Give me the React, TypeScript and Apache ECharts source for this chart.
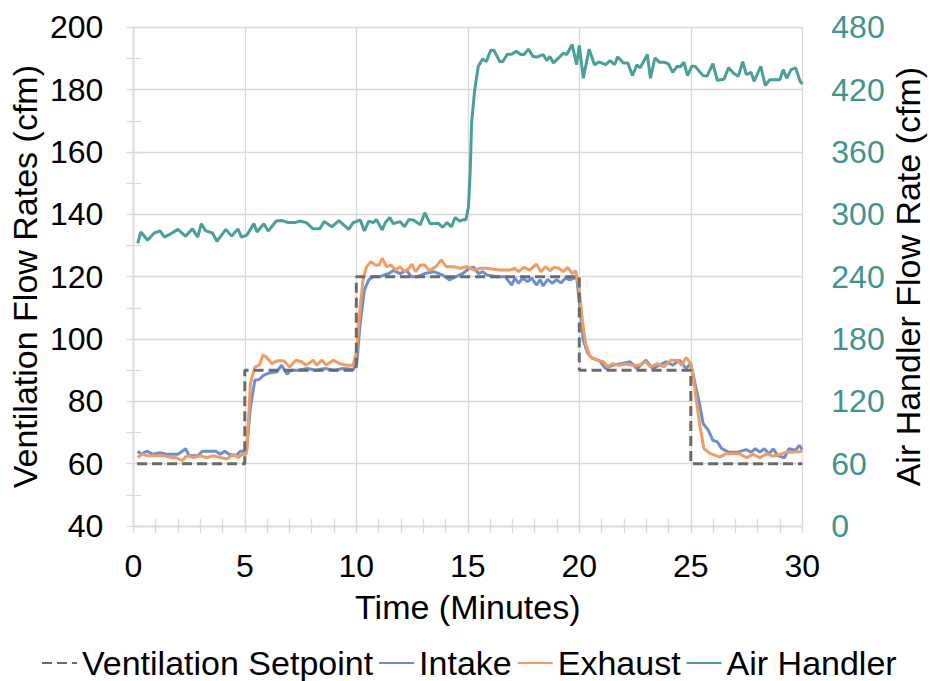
import React, { useEffect, useRef } from "react";
import * as echarts from "echarts";

const xTicks = [0, 5, 10, 15, 20, 25, 30];

const setpointTime = [0.17, 5, 5, 10, 10, 20, 20, 25, 25, 30];
const setpointFlow = [60, 60, 90, 90, 120, 120, 90, 90, 60, 60];

const intakeTime = [
  0.2, 0.35, 0.6, 0.9, 1.2, 1.5, 1.8, 2.0, 2.35, 2.5, 2.9, 3.1, 3.4, 3.7, 3.9, 4.1, 4.3, 4.6, 4.8, 5.0,
  5.09, 5.25, 5.45, 5.65, 5.85, 6.15, 6.45, 6.65, 6.9, 7.05, 7.4, 7.8, 8.2, 8.6, 9.0, 9.4, 9.86, 10.02, 10.16, 10.36,
  10.56, 10.76, 11.05, 11.46, 11.66, 11.96, 12.26, 12.46, 12.76, 13.07, 13.47, 13.87, 14.17, 14.47, 14.77, 15.07, 15.27, 15.47, 15.67, 15.87,
  16.27, 16.67, 16.97, 17.11, 17.27, 17.47, 17.67, 17.87, 18.08, 18.24, 18.38, 18.58, 18.78, 18.98, 19.18, 19.38, 19.58, 19.78, 19.88, 20.04,
  20.18, 20.38, 20.58, 20.88, 21.18, 21.48, 21.88, 22.28, 22.59, 22.99, 23.29, 23.59, 23.89, 24.19, 24.49, 24.79, 25.0, 25.19, 25.39, 25.55,
  25.79, 25.99, 26.19, 26.39, 26.69, 27.09, 27.49, 27.7, 27.9, 28.1, 28.3, 28.5, 28.7, 28.9, 29.2, 29.4, 29.7, 29.86, 30.0,
];
const intakeFlow = [
  64, 63, 64, 63, 63.5, 63, 63, 63, 64.8, 62.5, 62.5, 64, 64, 64, 63, 64, 63, 62.5, 64, 64,
  65, 78, 86.8, 87, 88.4, 89.2, 89.5, 91.6, 88.7, 90, 90, 90.5, 90, 90.5, 90, 90.5, 90.2, 92, 104, 115.7,
  119, 120, 120, 121, 122, 121, 122, 120, 120, 121, 121.6, 120.5, 119, 120, 121, 122.7, 123, 121, 121.6, 120.5,
  120, 120, 117.3, 119.5, 117.9, 119.5, 118.4, 119.5, 117.3, 119, 117, 119.1, 117.9, 119, 118, 119.5, 119, 119.5, 120, 109.3,
  99.6, 95.4, 93.8, 93.2, 90.5, 91.6, 92.1, 92.7, 90.5, 93.2, 90.5, 91.6, 92.7, 91.6, 93.2, 90.5, 92.1, 85.7, 79.3, 72.9,
  70.7, 67.5, 67, 64.8, 63.7, 63.7, 64.5, 63.7, 64.8, 63.7, 64.8, 63.2, 64.8, 62.6, 61.9, 64.8, 64.3, 65.9, 64.5,
];

const exhaustTime = [
  0.2, 0.4, 0.7, 1.0, 1.4, 1.7, 1.9, 2.2, 2.4, 2.7, 3.0, 3.3, 3.6, 3.9, 4.2, 4.5, 4.7, 4.9, 5.05, 5.09,
  5.25, 5.45, 5.65, 5.81, 5.95, 6.21, 6.45, 6.75, 7.01, 7.29, 7.55, 7.76, 8.06, 8.22, 8.46, 8.66, 8.96, 9.26, 9.56, 9.86,
  10.02, 10.16, 10.3, 10.46, 10.66, 10.86, 11.02, 11.16, 11.36, 11.56, 11.76, 11.96, 12.16, 12.36, 12.5, 12.66, 12.87, 13.07, 13.27, 13.57,
  13.81, 14.03, 14.37, 14.67, 14.97, 15.27, 15.57, 15.87, 16.17, 16.47, 16.87, 17.11, 17.27, 17.52, 17.78, 18.08, 18.28, 18.48, 18.68, 18.88,
  19.08, 19.28, 19.48, 19.68, 19.84, 19.98, 20.12, 20.28, 20.48, 20.78, 21.08, 21.28, 21.48, 21.78, 22.08, 22.38, 22.68, 22.99, 23.19, 23.49,
  23.79, 24.09, 24.39, 24.59, 24.79, 25.0, 25.19, 25.39, 25.59, 25.89, 26.29, 26.59, 26.89, 27.19, 27.49, 27.79, 28.1, 28.4, 28.7, 29.0,
  29.3, 29.6, 30.0,
];
const exhaustFlow = [
  62, 63, 62.5, 62.5, 62.5, 62, 62, 61, 62.5, 62, 62.5, 62, 62.5, 62, 61.5, 63, 62, 63, 63, 64.3,
  85.7, 91, 91.6, 94.8, 94.3, 92.1, 93, 93, 91, 93.2, 92.7, 91.6, 93.2, 91.6, 93.2, 91.6, 93.2, 92.1, 91.6, 91.6,
  96.4, 109.3, 119, 123.2, 124.8, 123.7, 123.7, 125.9, 123.2, 123.7, 122.1, 123.2, 121.6, 122.7, 124, 121.6, 123.7, 123.7, 122, 123.2,
  125.4, 123.2, 123.2, 122.7, 123.2, 122.1, 122.7, 122.7, 122.4, 122.1, 122.1, 122.7, 121.6, 123, 122.1, 124, 121.6, 123.2, 121.9, 123,
  122.7, 121.6, 123, 121, 121.9, 116.8, 107.1, 98.6, 94.3, 93.2, 92.7, 91, 92.1, 91.6, 92, 91.6, 91.6, 92.7, 91, 92.1,
  91, 93.2, 93.2, 91.6, 94.1, 92.1, 83.6, 72.9, 64.8, 63.2, 62.1, 63.2, 63.2, 63.2, 61.9, 63, 61.9, 63.2, 62.4, 63,
  63.7, 63.7, 64,
];

const airTime = [
  0.2, 0.34, 0.64, 0.94, 1.2, 1.4, 1.74, 2.0, 2.34, 2.65, 2.89, 3.05, 3.25, 3.55, 3.75, 4.15, 4.41, 4.69, 4.85, 5.09,
  5.41, 5.55, 5.85, 6.05, 6.41, 6.65, 6.95, 7.25, 7.45, 7.76, 8.06, 8.36, 8.56, 8.9, 9.22, 9.66, 9.86, 10.18, 10.36, 10.56,
  10.76, 10.9, 11.16, 11.3, 11.5, 11.66, 11.96, 12.16, 12.36, 12.56, 12.87, 13.07, 13.31, 13.67, 13.87, 14.07, 14.27, 14.43, 14.63, 14.83,
  14.91, 15.03, 15.11, 15.17, 15.31, 15.47, 15.67, 15.83, 16.03, 16.17, 16.43, 16.57, 16.77, 16.97, 17.17, 17.37, 17.52, 17.72, 17.92, 18.12,
  18.38, 18.54, 18.68, 18.84, 19.12, 19.28, 19.44, 19.68, 19.88, 20.0, 20.18, 20.44, 20.68, 20.88, 21.18, 21.38, 21.58, 21.72, 21.98, 22.18,
  22.38, 22.59, 22.73, 23.05, 23.19, 23.39, 23.59, 23.79, 23.99, 24.19, 24.39, 24.53, 24.69, 24.85, 25.05, 25.19, 25.55, 25.73, 25.99, 26.19,
  26.49, 26.69, 26.93, 27.13, 27.33, 27.49, 27.7, 27.84, 28.14, 28.34, 28.54, 29.0, 29.14, 29.3, 29.5, 29.7, 29.9, 30.0,
];
const airFlow = [
  272, 283, 275, 282, 284, 278, 282, 285.5, 279, 286, 278, 291, 284, 282, 274, 285.5, 279, 286, 278, 280,
  291, 283, 291, 284, 293.5, 294, 292, 292, 293.5, 292, 286, 286, 293, 288, 294, 285.5, 292, 294.5, 284, 293.5,
  292, 295, 285, 292, 297, 291, 293, 288, 295, 294.5, 290, 301.5, 291, 291.5, 287.5, 292, 288, 297, 293.5, 295,
  294.5, 307, 343, 388, 420, 442.5, 449.6, 447, 458, 458, 447, 447, 454, 454, 457, 453.8, 453.8, 459, 452, 451.5,
  453.8, 448, 452, 445.7, 451.5, 455, 453.8, 463.4, 444, 462.5, 431, 459, 444, 446.7, 444, 448, 444, 451.5, 445.7, 445.7,
  433.5, 444, 441, 453.8, 431, 450.5, 446.4, 446.4, 445, 436.7, 442.5, 442, 446.4, 433.5, 442.5, 442.5, 433.5, 433, 445, 429,
  430, 441, 435.5, 433, 447, 434.5, 436.7, 428, 442.5, 424, 429.6, 429.6, 439.3, 431, 439.3, 441, 428, 425.5,
];

const zip = (t: number[], v: number[]) => t.map((x, i) => [x, v[i]]);

const FONT = "'Liberation Sans', Arial, sans-serif";
const TEAL_TEXT = "#3f958d";
const GRID = "#d9d9d9";

export default function App() {
  const ref = useRef<HTMLDivElement>(null);
  useEffect(() => {
    document.body.style.margin = "0";
    const chart = echarts.init(ref.current!, undefined, { renderer: "svg" });
    const gray = { lineStyle: { color: GRID, width: 1.3 } };
    chart.setOption({
      animation: false,
      textStyle: { fontFamily: FONT },
      grid: { left: 133.3, right: 127.7, top: 27.3, bottom: 155, outerBoundsMode: "none", containLabel: false },
      legend: {
        left: 41,
        top: 646,
        padding: 0,
        itemWidth: 35,
        itemHeight: 14,
        itemGap: 5,
        itemStyle: { opacity: 0 },
        textStyle: { fontSize: 34, color: "#000", fontFamily: FONT },
        data: ["Ventilation Setpoint", "Intake", "Exhaust", "Air Handler"],
      },
      xAxis: [
        {
          type: "value",
          min: 0,
          max: 30,
          interval: 5,
          name: "Time (Minutes)",
          nameLocation: "middle",
          nameGap: 64,
          nameMoveOverlap: false,
          nameTextStyle: { fontSize: 34, color: "#000", fontFamily: FONT },
          axisLine: { show: true, onZero: false, ...gray },
          axisTick: { show: true, length: 7, ...gray },
          minorTick: { show: true, splitNumber: 5, length: 7, ...gray },
          splitLine: { show: true, ...gray },
          axisLabel: {
            fontSize: 32,
            color: "#000",
            margin: 24,
            fontFamily: FONT,
            formatter: (v: number) => (xTicks.includes(v) ? String(v) : ""),
          },
        },
        {
          type: "value",
          min: 0,
          max: 30,
          interval: 5,
          position: "bottom",
          axisLine: { show: false, onZero: false },
          axisTick: { show: true, inside: true, length: 7, ...gray },
          minorTick: { show: true, splitNumber: 5, length: 7, ...gray },
          splitLine: { show: false },
          axisLabel: { show: false },
        },
      ],
      yAxis: [
        {
          type: "value",
          min: 40,
          max: 200,
          interval: 20,
          position: "left",
          name: "Ventilation Flow Rates (cfm)",
          nameLocation: "middle",
          nameGap: 91,
          nameRotate: 90,
          nameMoveOverlap: false,
          nameTextStyle: { fontSize: 34, color: "#000", fontFamily: FONT },
          axisLine: { show: true, ...gray },
          axisTick: { show: true, length: 7, ...gray },
          minorTick: { show: true, splitNumber: 2, length: 7, ...gray },
          splitLine: { show: true, ...gray },
          axisLabel: { fontSize: 32, color: "#000", margin: 30, fontFamily: FONT },
        },
        {
          type: "value",
          min: 0,
          max: 480,
          interval: 60,
          position: "right",
          name: "Air Handler Flow Rate (cfm)",
          nameLocation: "middle",
          nameGap: 89,
          nameRotate: 90,
          nameMoveOverlap: false,
          nameTextStyle: { fontSize: 34, color: "#000", fontFamily: FONT },
          axisLine: { show: true, ...gray },
          axisTick: { show: true, length: 10, ...gray },
          splitLine: { show: false },
          axisLabel: { fontSize: 32, color: TEAL_TEXT, margin: 29, fontFamily: FONT },
        },
        {
          type: "value",
          min: 40,
          max: 200,
          interval: 20,
          position: "left",
          axisLine: { show: false },
          axisTick: { show: false, inside: true },
          minorTick: { show: true, splitNumber: 2, length: 8, ...gray },
          splitLine: { show: false },
          axisLabel: { show: false },
        },
      ],
      series: [
        {
          name: "Ventilation Setpoint",
          type: "line",
          xAxisIndex: 0,
          yAxisIndex: 0,
          symbol: "none",
          data: zip(setpointTime, setpointFlow),
          lineStyle: { color: "#6b6b6b", width: 3, type: [10, 5] },
          itemStyle: { color: "#6b6b6b" },
          z: 3,
        },
        {
          name: "Intake",
          type: "line",
          xAxisIndex: 0,
          yAxisIndex: 0,
          symbol: "none",
          data: zip(intakeTime, intakeFlow),
          lineStyle: { color: "#6b8fd6", width: 3 },
          itemStyle: { color: "#6b8fd6" },
          z: 2,
        },
        {
          name: "Exhaust",
          type: "line",
          xAxisIndex: 0,
          yAxisIndex: 0,
          symbol: "none",
          data: zip(exhaustTime, exhaustFlow),
          lineStyle: { color: "#f49c5f", width: 3 },
          itemStyle: { color: "#f49c5f" },
          z: 2,
        },
        {
          name: "Air Handler",
          type: "line",
          xAxisIndex: 0,
          yAxisIndex: 1,
          symbol: "none",
          data: zip(airTime, airFlow),
          lineStyle: { color: "#48a098", width: 3 },
          itemStyle: { color: "#48a098" },
          z: 2,
        },
      ],
    });
    return () => chart.dispose();
  }, []);
  return <div ref={ref} style={{ width: 930, height: 681 }} />;
}
